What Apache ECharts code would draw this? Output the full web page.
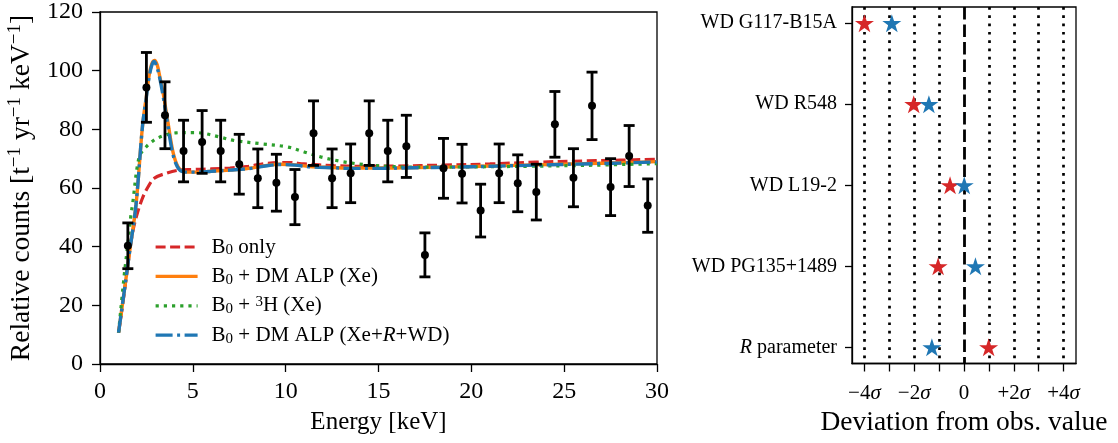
<!DOCTYPE html>
<html>
<head>
<meta charset="utf-8">
<script src="https://cdn.jsdelivr.net/npm/echarts@6/dist/echarts.min.js"></script>
<style>
  html, body { margin: 0; padding: 0; background: #fff; }
  #chart { width: 1118px; height: 443px; }
</style>
</head>
<body>
<div id="chart"></div>
<script>
// ---- Measured spectrum: bin centres [keV], counts and 1-sigma errors ----
const binEnergy = [1.5, 2.5, 3.5, 4.5, 5.5, 6.5, 7.5, 8.5, 9.5, 10.5, 11.5, 12.5, 13.5, 14.5, 15.5,
                   16.5, 17.5, 18.5, 19.5, 20.5, 21.5, 22.5, 23.5, 24.5, 25.5, 26.5, 27.5, 28.5, 29.5];
const binCounts = [40.3, 94.3, 84.8, 72.6, 75.7, 72.6, 68.1, 63.3, 61.8, 56.9, 78.7, 63.3, 65.0, 78.7, 72.6,
                   74.2, 37.2, 66.7, 64.9, 52.3, 65.0, 61.6, 58.6, 81.7, 63.5, 88.0, 60.3, 70.9, 54.0];
const binErrors = [7.8, 11.9, 11.4, 10.5, 10.7, 10.5, 10.2, 10.0, 9.7, 9.4, 11.0, 10.0, 10.0, 11.0, 10.5,
                   10.6, 7.5, 10.2, 10.0, 9.0, 10.0, 9.7, 9.5, 11.2, 9.9, 11.5, 9.7, 10.4, 9.1];

// ---- Model curves ----
const b0Energy = [1.0, 1.3, 1.5, 1.7, 1.94, 2.29, 2.6, 2.92, 3.55, 4.27, 5.0, 6.0, 7.0, 8.0, 9.0, 10.1,
                  11.0, 12.6, 14.0, 16.0, 18.5, 21.0, 23.5, 26.0, 28.0, 30.0];
const b0Counts = [10.7, 24.0, 34.0, 43.0, 49.8, 56.6, 60.5, 63.3, 65.0, 66.1, 66.3, 66.5, 66.8, 67.4, 68.4, 68.7,
                  68.2, 67.6, 67.4, 67.5, 67.8, 68.2, 68.8, 69.2, 69.5, 69.8];

const alpEnergy = [1.0, 1.3, 1.6, 1.94, 2.29, 2.5, 2.65, 2.8, 2.95, 3.08, 3.22, 3.4, 3.66, 3.93, 4.2, 4.5,
                   5.0, 6.0, 7.0, 8.0, 9.0, 9.7, 10.5, 11.3, 12.5, 13.5, 15.0, 17.0, 19.0, 21.0, 23.5, 26.0, 28.0, 30.0];
const alpCounts = [10.7, 24.5, 38.5, 54.3, 81.2, 91.5, 98.5, 102.5, 103.5, 102.0, 98.0, 92.4, 82.4, 72.3, 67.2, 65.6,
                   65.4, 65.7, 66.1, 66.7, 67.7, 68.1, 67.9, 67.3, 67.0, 66.8, 66.8, 67.0, 67.2, 67.5, 67.9, 68.3, 68.6, 69.0];

const tritiumEnergy = [1.0, 1.3, 1.5, 1.67, 1.75, 2.11, 2.47, 2.8, 3.19, 4.09, 5.0, 5.52, 6.5, 7.22, 8.66, 10.09,
                       10.99, 11.88, 12.96, 14.2, 15.46, 17.0, 20.0, 23.0, 26.0, 30.0];
const tritiumCounts = [10.7, 30.0, 41.0, 51.0, 54.3, 70.6, 73.9, 75.8, 77.3, 78.8, 78.9, 78.7, 77.3, 76.2, 75.1, 74.0,
                       72.3, 70.6, 69.1, 68.0, 67.4, 67.1, 67.2, 67.4, 67.7, 68.3];

const wdEnergy = [1.0, 1.3, 1.6, 1.94, 2.29, 2.5, 2.65, 2.8, 2.92, 3.05, 3.2, 3.37, 3.63, 3.9, 4.17, 4.5,
                  5.0, 6.0, 7.0, 8.0, 9.0, 9.7, 10.5, 11.3, 12.5, 13.5, 15.0, 17.0, 19.0, 21.0, 23.5, 26.0, 28.0, 30.0];
const wdCounts = [10.7, 24.5, 38.5, 54.3, 81.2, 91.0, 98.0, 102.0, 103.1, 101.5, 98.0, 92.4, 82.4, 72.3, 67.2, 65.5,
                  65.4, 65.7, 66.1, 66.6, 67.6, 68.0, 67.8, 67.2, 66.9, 66.7, 66.7, 66.9, 67.1, 67.4, 67.8, 68.2, 68.5, 68.9];

const seriesNames = ['B0 only', 'B0 + DM ALP (Xe)', 'B0 + 3H (Xe)', 'B0 + DM ALP (Xe+R+WD)'];
const legendTexts = ['B{sub|0} only', 'B{sub|0} + DM ALP (Xe)', 'B{sub|0} + {sup|3}H (Xe)',
                     'B{sub|0} + DM ALP (Xe+{i|R}+WD)'];

// ---- Deviation panel ----
const rowNames = ['WD G117-B15A', 'WD R548', 'WD L19-2', 'WD PG135+1489', '{i|R} parameter'];
const redDeviation = [-4.0, -2.02, -0.56, -1.04, 0.99];
const blueDeviation = [-2.9, -1.41, 0.01, 0.46, -1.29];
const sigmaGridLines = [-4, -3, -2, -1, 1, 2, 3, 4];
const sigmaTicks = [-4, -3, -2, -1, 0, 1, 2, 3, 4];
const sigmaLabels = [-4, -2, 0, 2, 4];

const FONT = "'Liberation Serif', 'DejaVu Serif', serif";
const pair = (xs, ys) => xs.map((x, i) => [x, ys[i]]);

// five-pointed star outline for the markers
function starPath() {
  const pts = [];
  for (let k = 0; k < 10; k++) {
    const r = (k % 2) ? 0.381966 : 1;
    const a = -Math.PI / 2 + k * Math.PI / 5;
    pts.push((r * Math.cos(a) * 50).toFixed(2) + ' ' + (r * Math.sin(a) * 50).toFixed(2));
  }
  return 'path://M' + pts.join(' L') + ' Z';
}
const STAR = starPath();

const axisLineStyle = { color: '#000', width: 1.3 };
const tickStyle = { color: '#000', width: 1.3 };
const italic = size => ({ fontFamily: FONT, fontSize: size, fontStyle: 'italic', color: '#000' });

const chart = echarts.init(document.getElementById('chart'), null, { renderer: 'canvas' });

chart.setOption({
  backgroundColor: '#fff',
  animation: false,
  grid: [
    { left: 100, top: 7, width: 557, height: 357, show: true, borderColor: '#000', borderWidth: 1.3, backgroundColor: 'transparent' },
    { left: 852, top: 7, width: 224, height: 356.5, show: true, borderColor: '#000', borderWidth: 1.3, backgroundColor: 'transparent' }
  ],
  legend: {
    left: 149, top: 231, orient: 'vertical',
    itemWidth: 42, itemHeight: 14, itemGap: 7.4,
    data: seriesNames,
    formatter: name => legendTexts[seriesNames.indexOf(name)],
    itemStyle: { opacity: 0 },
    lineStyle: { width: 3.2 },
    textStyle: {
      fontFamily: FONT, fontSize: 21, color: '#000', lineHeight: 22, padding: [0, 0, 0, 9],
      rich: {
        i: Object.assign(italic(21), { lineHeight: 22 }),
        sub: { fontFamily: FONT, fontSize: 15, lineHeight: 15, verticalAlign: 'bottom', color: '#000' },
        sup: { fontFamily: FONT, fontSize: 15, lineHeight: 15, verticalAlign: 'top', color: '#000' }
      }
    }
  },
  xAxis: [
    {
      type: 'value', gridIndex: 0, min: 0, max: 30, interval: 5,
      axisLine: { show: true, onZero: false, lineStyle: axisLineStyle },
      axisTick: { show: true, length: 8, lineStyle: tickStyle },
      axisLabel: { color: '#000', fontFamily: FONT, fontSize: 24, margin: 16 },
      splitLine: { show: false },
      name: 'Energy [keV]', nameLocation: 'middle', nameGap: 46,
      nameTextStyle: { color: '#000', fontFamily: FONT, fontSize: 25 }
    },
    {
      type: 'value', gridIndex: 1, min: -4.5, max: 4.5,
      axisLine: { show: true, onZero: false, lineStyle: axisLineStyle },
      axisTick: { show: true, length: 8, lineStyle: tickStyle, customValues: sigmaTicks },
      axisLabel: {
        color: '#000', fontFamily: FONT, fontSize: 21, margin: 19,
        customValues: sigmaLabels,
        formatter: v => v === 0 ? '0' : (v > 0 ? '+' : '−') + Math.abs(v) + '{i|σ}',
        rich: { i: italic(21) }
      },
      splitLine: { show: false },
      name: 'Deviation from obs. value', nameLocation: 'middle', nameGap: 31,
      nameTextStyle: { color: '#000', fontFamily: FONT, fontSize: 27.5 }
    }
  ],
  yAxis: [
    {
      type: 'value', gridIndex: 0, min: 0, max: 120, interval: 20,
      axisLine: { show: true, onZero: false, lineStyle: axisLineStyle },
      axisTick: { show: true, length: 8, lineStyle: tickStyle },
      axisLabel: { color: '#000', fontFamily: FONT, fontSize: 24, margin: 17 },
      splitLine: { show: false },
      name: 'Relative counts [t{s|−1} yr{s|−1} keV{s|−1}]', nameLocation: 'middle', nameGap: 62, nameRotate: 90,
      nameTextStyle: {
        color: '#000', fontFamily: FONT, fontSize: 27.5, lineHeight: 32,
        rich: { s: { fontFamily: FONT, fontSize: 19, lineHeight: 19, verticalAlign: 'top', color: '#000' } }
      }
    },
    {
      type: 'value', gridIndex: 1, min: -0.2, max: 4.2, inverse: true,
      axisLine: { show: true, onZero: false, lineStyle: axisLineStyle },
      axisTick: { show: true, length: 7, lineStyle: tickStyle, customValues: [0, 1, 2, 3, 4] },
      axisLabel: {
        color: '#000', fontFamily: FONT, fontSize: 20, margin: 15,
        customValues: [0, 1, 2, 3, 4],
        formatter: v => rowNames[Math.round(v)] || '',
        rich: { i: italic(20) }
      },
      splitLine: { show: false }
    }
  ],
  series: [
    {
      name: seriesNames[0], type: 'line', xAxisIndex: 0, yAxisIndex: 0,
      data: pair(b0Energy, b0Counts), symbol: 'none', showSymbol: false, smooth: 0.35, z: 2,
      lineStyle: { color: '#d62728', width: 3.2, type: [10, 4.5], cap: 'butt' },
      itemStyle: { color: '#d62728' }
    },
    {
      name: seriesNames[1], type: 'line', xAxisIndex: 0, yAxisIndex: 0,
      data: pair(alpEnergy, alpCounts), symbol: 'none', showSymbol: false, smooth: 0.35, z: 3,
      lineStyle: { color: '#ff7f0e', width: 3.4 },
      itemStyle: { color: '#ff7f0e' }
    },
    {
      name: seriesNames[2], type: 'line', xAxisIndex: 0, yAxisIndex: 0,
      data: pair(tritiumEnergy, tritiumCounts), symbol: 'none', showSymbol: false, smooth: 0.35, z: 4,
      lineStyle: { color: '#2ca02c', width: 3.2, type: [3.2, 5], cap: 'butt' },
      itemStyle: { color: '#2ca02c' }
    },
    {
      name: seriesNames[3], type: 'line', xAxisIndex: 0, yAxisIndex: 0,
      data: pair(wdEnergy, wdCounts), symbol: 'none', showSymbol: false, smooth: 0.35, z: 5,
      lineStyle: { color: '#1f77b4', width: 3.4, type: [17, 4.5, 3, 4.5], cap: 'butt' },
      itemStyle: { color: '#1f77b4' }
    },
    {
      // error bars with caps
      type: 'custom', xAxisIndex: 0, yAxisIndex: 0, z: 6,
      data: binEnergy.map((e, i) => [e, binCounts[i], binErrors[i]]),
      encode: { x: 0, y: 1 },
      renderItem: (params, api) => {
        const x = api.value(0), y = api.value(1), err = api.value(2);
        const top = api.coord([x, y + err]);
        const bot = api.coord([x, y - err]);
        const cw = 5.5;
        const st = { stroke: '#000', lineWidth: 2.8 };
        return {
          type: 'group',
          children: [
            { type: 'line', shape: { x1: top[0], y1: top[1], x2: bot[0], y2: bot[1] }, style: st },
            { type: 'line', shape: { x1: top[0] - cw, y1: top[1], x2: top[0] + cw, y2: top[1] }, style: st },
            { type: 'line', shape: { x1: bot[0] - cw, y1: bot[1], x2: bot[0] + cw, y2: bot[1] }, style: st }
          ]
        };
      }
    },
    {
      type: 'scatter', xAxisIndex: 0, yAxisIndex: 0, z: 7,
      data: pair(binEnergy, binCounts), symbol: 'circle', symbolSize: 8,
      itemStyle: { color: '#000', opacity: 1 }
    },
    {
      // reference lines of the deviation panel
      type: 'scatter', xAxisIndex: 1, yAxisIndex: 1, z: 1, data: [], silent: true,
      markLine: {
        silent: true, symbol: ['none', 'none'], label: { show: false },
        lineStyle: { color: '#000', width: 2.7, type: [2.7, 5.6], cap: 'butt', opacity: 1 },
        data: sigmaGridLines.map(v => ({ xAxis: v }))
      }
    },
    {
      type: 'scatter', xAxisIndex: 1, yAxisIndex: 1, z: 1, data: [], silent: true,
      markLine: {
        silent: true, symbol: ['none', 'none'], label: { show: false },
        lineStyle: { color: '#000', width: 2.8, type: [12.5, 5], cap: 'butt', opacity: 1 },
        data: [{ xAxis: 0 }]
      }
    },
    {
      type: 'scatter', xAxisIndex: 1, yAxisIndex: 1, z: 8,
      data: redDeviation.map((v, i) => [v, i]),
      symbol: STAR, symbolSize: [19, 18],
      itemStyle: { color: '#d62728', opacity: 1 }
    },
    {
      type: 'scatter', xAxisIndex: 1, yAxisIndex: 1, z: 9,
      data: blueDeviation.map((v, i) => [v, i]),
      symbol: STAR, symbolSize: [19, 18],
      itemStyle: { color: '#1f77b4', opacity: 1 }
    }
  ]
});
</script>
</body>
</html>
